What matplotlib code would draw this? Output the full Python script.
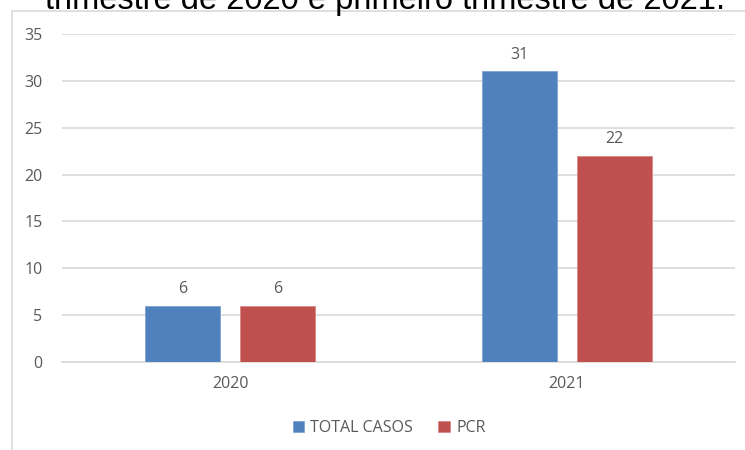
import numpy as np
import matplotlib.pyplot as plt
from matplotlib.patches import Rectangle

# dati
anni = ["2020", "2021"]
total_casos = [6, 31]
pcr = [6, 22]
yticks = [0, 5, 10, 15, 20, 25, 30, 35]
titolo = "trimestre de 2020 e primeiro trimestre de 2021."

BLUE = "#4F81BD"
RED = "#C0504D"
GRAY_TXT = "#595959"
GRID = "#D9D9D9"

plt.rcParams["font.family"] = ["Open Sans", "DejaVu Sans"]

fig = plt.figure(figsize=(7.45, 4.5), dpi=100)
ax = fig.add_axes([62 / 745, 88 / 450, 673 / 745, 328 / 450])

# cornice esterna del grafico (tagliata a destra e in basso)
fig.patches.append(Rectangle((12 / 745, -0.1), 1.0, 1 - 11 / 450 + 0.1,
                             transform=fig.transFigure, fill=False,
                             edgecolor=GRID, linewidth=1.2, zorder=0))

# titolo tagliato in alto
fig.text(0.517, 1 - 9 / 450, titolo, ha="center", va="baseline",
         fontsize=23.5, color="black", family=["Liberation Sans", "DejaVu Sans"])

x = np.arange(len(anni))
w = 0.223
off = 0.141
b1 = ax.bar(x - off, total_casos, w, color=BLUE, edgecolor="#7FA3D3",
            linewidth=0.6, label="TOTAL CASOS", zorder=3)
b2 = ax.bar(x + off, pcr, w, color=RED, edgecolor="#D98A88",
            linewidth=0.6, label="PCR", zorder=3)

for bars in (b1, b2):
    ax.bar_label(bars, padding=6, fontsize=11.5, color=GRAY_TXT)

ax.set_xlim(-0.5, 1.5)
ax.set_ylim(0, 35)
ax.set_yticks(yticks)
ax.set_xticks(x)
ax.set_xticklabels(anni)
ax.yaxis.grid(True, color=GRID, linewidth=1.2, zorder=0)
ax.set_axisbelow(True)
for s in ("top", "right", "left"):
    ax.spines[s].set_visible(False)
ax.spines["bottom"].set_color(GRID)
ax.spines["bottom"].set_linewidth(1.2)
ax.tick_params(axis="both", length=0, labelsize=11.5, labelcolor=GRAY_TXT)
ax.tick_params(axis="y", pad=14)
ax.tick_params(axis="x", pad=10)

ax.legend(loc="center", bbox_to_anchor=(389 / 745, 1 - 428 / 450),
          bbox_transform=fig.transFigure, ncol=2, frameon=False,
          fontsize=11.5, handlelength=0.7, handleheight=0.7,
          handletextpad=0.4, columnspacing=1.6, labelcolor=GRAY_TXT)

fig.savefig("out.png", dpi=100)
